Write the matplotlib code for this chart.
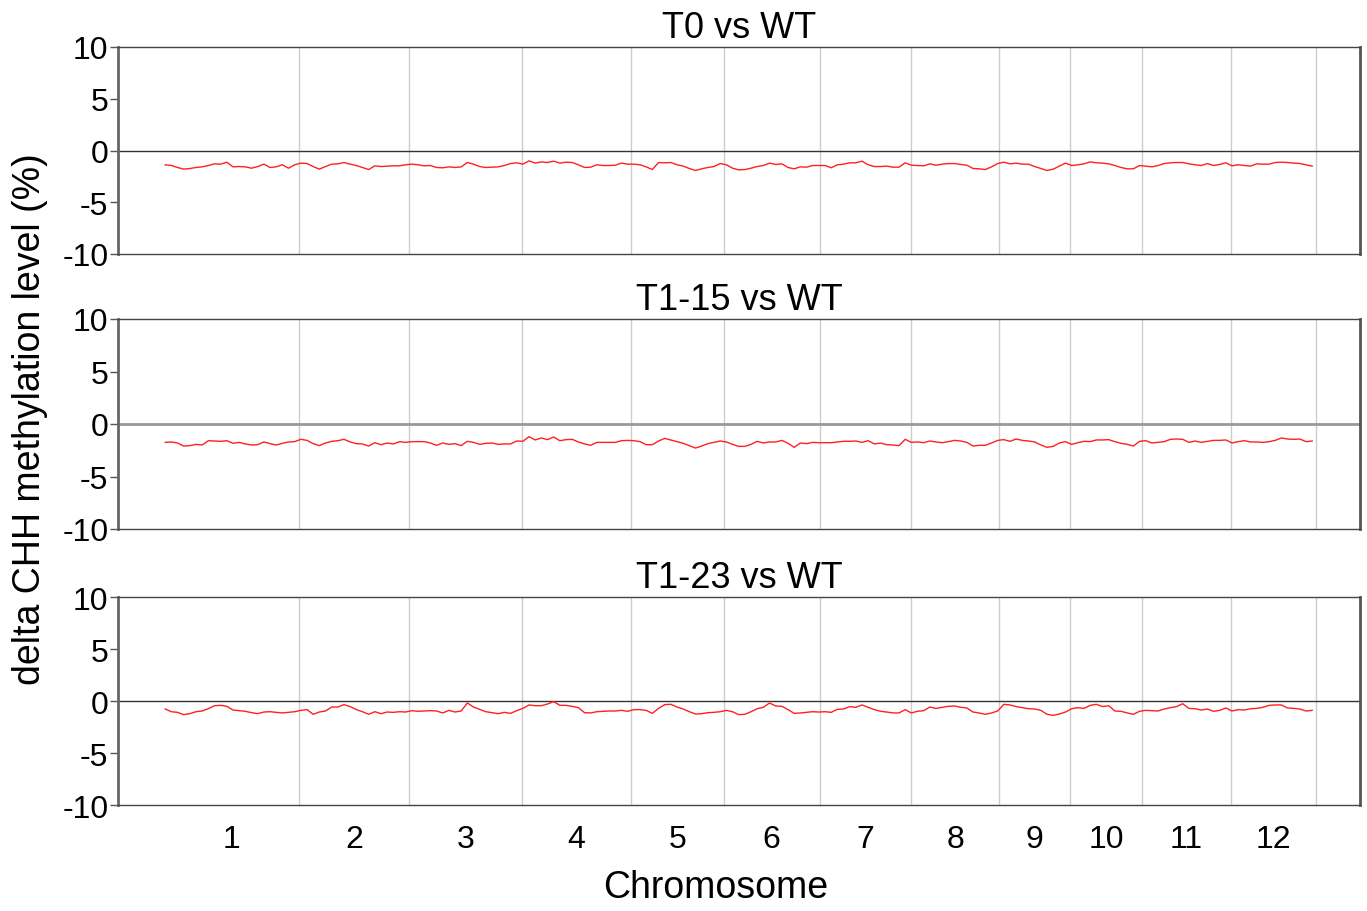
import numpy as np
import matplotlib
matplotlib.use('Agg')
import matplotlib.pyplot as plt

plt.rcParams['font.family'] = ['Liberation Sans', 'DejaVu Sans']

# rice chromosome lengths (Mb)
chrom_names = ['1', '2', '3', '4', '5', '6', '7', '8', '9', '10', '11', '12']
chrom_len = [43.27, 35.94, 36.41, 35.50, 29.96, 31.25, 29.70, 28.44, 23.01, 23.21, 29.02, 27.53]

bin_mb = 2.0  # bin size of the methylation windows

titles = ['T0 vs WT', 'T1-15 vs WT', 'T1-23 vs WT']

t0_vs_wt = [
    -1.38, -1.45, -1.64, -1.80, -1.74, -1.64, -1.58, -1.45, -1.29, -1.32,
    -1.13, -1.58, -1.55, -1.58, -1.71, -1.55, -1.32, -1.64, -1.58, -1.38,
    -1.71, -1.38, -1.22, -1.26, -1.55, -1.80, -1.55, -1.32, -1.29, -1.16,
    -1.32, -1.45, -1.64, -1.84, -1.48, -1.55, -1.51, -1.48, -1.48, -1.38,
    -1.32, -1.38, -1.48, -1.45, -1.64, -1.67, -1.58, -1.64, -1.58, -1.16,
    -1.32, -1.55, -1.64, -1.61, -1.58, -1.45, -1.26, -1.19, -1.32, -1.00,
    -1.22, -1.10, -1.16, -1.03, -1.22, -1.13, -1.16, -1.38, -1.64, -1.61,
    -1.38, -1.45, -1.45, -1.42, -1.22, -1.32, -1.32, -1.38, -1.58, -1.84,
    -1.16, -1.19, -1.16, -1.38, -1.51, -1.74, -1.93, -1.77, -1.64, -1.55,
    -1.26, -1.38, -1.71, -1.87, -1.84, -1.71, -1.55, -1.45, -1.22, -1.35,
    -1.29, -1.64, -1.77, -1.58, -1.61, -1.45, -1.45, -1.45, -1.67, -1.38,
    -1.32, -1.19, -1.19, -1.03, -1.38, -1.55, -1.55, -1.51, -1.61, -1.61,
    -1.19, -1.42, -1.45, -1.48, -1.29, -1.42, -1.32, -1.26, -1.26, -1.35,
    -1.42, -1.74, -1.77, -1.84, -1.58, -1.26, -1.13, -1.29, -1.22, -1.32,
    -1.32, -1.55, -1.74, -1.93, -1.80, -1.51, -1.22, -1.45, -1.38, -1.29,
    -1.10, -1.19, -1.22, -1.29, -1.45, -1.64, -1.77, -1.77, -1.45, -1.51,
    -1.58, -1.45, -1.26, -1.19, -1.16, -1.16, -1.29, -1.38, -1.45, -1.26,
    -1.45, -1.35, -1.19, -1.48, -1.38, -1.45, -1.51, -1.29, -1.32, -1.32,
    -1.16, -1.13, -1.16, -1.22, -1.26, -1.38, -1.51,
]

t1_15_vs_wt = [
    -1.75, -1.71, -1.81, -2.10, -2.06, -1.94, -2.00, -1.59, -1.62, -1.65,
    -1.59, -1.84, -1.75, -1.90, -2.00, -1.97, -1.71, -1.87, -2.00, -1.84,
    -1.71, -1.68, -1.46, -1.56, -1.87, -2.06, -1.81, -1.65, -1.59, -1.46,
    -1.71, -1.87, -1.90, -2.10, -1.78, -1.97, -1.81, -1.90, -1.68, -1.75,
    -1.68, -1.68, -1.68, -1.81, -2.03, -1.81, -1.94, -1.87, -2.06, -1.65,
    -1.75, -1.94, -1.84, -1.81, -1.94, -1.90, -1.90, -1.62, -1.65, -1.21,
    -1.52, -1.33, -1.49, -1.24, -1.59, -1.49, -1.46, -1.71, -1.90, -2.03,
    -1.75, -1.75, -1.75, -1.75, -1.59, -1.56, -1.59, -1.68, -1.97, -1.97,
    -1.62, -1.37, -1.52, -1.68, -1.84, -2.06, -2.29, -2.10, -1.87, -1.75,
    -1.62, -1.71, -1.94, -2.13, -2.13, -1.94, -1.65, -1.81, -1.71, -1.71,
    -1.56, -1.84, -2.22, -1.81, -1.87, -1.75, -1.78, -1.78, -1.78, -1.71,
    -1.65, -1.65, -1.62, -1.75, -1.59, -1.90, -1.81, -1.97, -2.00, -2.06,
    -1.46, -1.75, -1.71, -1.78, -1.62, -1.71, -1.78, -1.68, -1.56, -1.62,
    -1.75, -2.10, -2.03, -2.03, -1.81, -1.56, -1.49, -1.65, -1.43, -1.56,
    -1.62, -1.71, -2.00, -2.22, -2.13, -1.81, -1.68, -1.94, -1.78, -1.65,
    -1.68, -1.52, -1.52, -1.49, -1.68, -1.84, -1.94, -2.10, -1.65, -1.59,
    -1.81, -1.75, -1.68, -1.46, -1.43, -1.46, -1.75, -1.62, -1.75, -1.65,
    -1.56, -1.56, -1.52, -1.81, -1.68, -1.59, -1.71, -1.71, -1.75, -1.68,
    -1.56, -1.33, -1.43, -1.46, -1.43, -1.68, -1.62,
]

t1_23_vs_wt = [
    -0.77, -1.03, -1.09, -1.31, -1.22, -1.03, -0.96, -0.74, -0.45, -0.42,
    -0.51, -0.87, -0.93, -0.99, -1.12, -1.22, -1.06, -1.03, -1.09, -1.15,
    -1.09, -1.03, -0.90, -0.83, -1.28, -1.06, -0.96, -0.58, -0.58, -0.35,
    -0.54, -0.83, -1.03, -1.28, -1.03, -1.22, -1.06, -1.09, -1.03, -1.06,
    -0.93, -0.99, -0.96, -0.93, -0.96, -1.15, -0.90, -1.06, -0.96, -0.19,
    -0.58, -0.80, -1.03, -1.12, -1.22, -1.09, -1.19, -0.93, -0.71, -0.38,
    -0.45, -0.45, -0.29, -0.06, -0.42, -0.42, -0.51, -0.64, -1.12, -1.15,
    -1.03, -0.99, -0.96, -0.96, -0.90, -0.99, -0.83, -0.83, -0.90, -1.19,
    -0.71, -0.35, -0.32, -0.58, -0.77, -1.03, -1.25, -1.22, -1.12, -1.09,
    -1.03, -0.90, -1.03, -1.31, -1.28, -1.03, -0.74, -0.61, -0.19, -0.48,
    -0.51, -0.83, -1.19, -1.15, -1.09, -1.03, -1.06, -1.03, -1.09, -0.80,
    -0.77, -0.54, -0.61, -0.38, -0.61, -0.83, -0.99, -1.06, -1.15, -1.15,
    -0.83, -1.15, -0.99, -0.93, -0.58, -0.71, -0.61, -0.51, -0.48, -0.61,
    -0.67, -1.06, -1.15, -1.28, -1.15, -0.96, -0.32, -0.38, -0.54, -0.64,
    -0.74, -0.77, -0.90, -1.28, -1.38, -1.25, -1.06, -0.74, -0.64, -0.71,
    -0.42, -0.32, -0.54, -0.45, -0.96, -0.99, -1.15, -1.28, -0.99, -0.90,
    -0.93, -0.96, -0.77, -0.64, -0.54, -0.26, -0.71, -0.74, -0.87, -0.77,
    -0.99, -0.90, -0.67, -0.96, -0.83, -0.87, -0.74, -0.71, -0.61, -0.42,
    -0.38, -0.38, -0.67, -0.71, -0.77, -0.96, -0.90,
]

series = [t0_vs_wt, t1_15_vs_wt, t1_23_vs_wt]

ends = np.cumsum(chrom_len)
starts = ends - np.array(chrom_len)
centers = (starts + ends) / 2.0

fig = plt.figure(figsize=(13.67, 9.12), dpi=100)
left, right = 118 / 1367, 1360 / 1367
boxes = [(48, 255), (320, 530), (598, 806)]

for i, (top_px, bot_px) in enumerate(boxes):
    b = 1 - bot_px / 912
    h = (bot_px - top_px) / 912
    ax = fig.add_axes([left, b, right - left, h])
    vals = np.array(series[i])
    x = np.arange(len(vals)) * bin_mb
    for e in ends:
        ax.axvline(e, color='#cccccc', lw=1, zorder=0)
    if i == 1:
        ax.axhline(0, color='#999999', lw=2, zorder=1)
    else:
        ax.axhline(0, color='#333333', lw=1, zorder=1)
    ax.plot(x, vals, color='#ff2020', lw=1, zorder=2)

    ax.set_xlim(-15.3, 387.5)
    ax.set_ylim(-10, 10)
    ax.set_yticks([-10, -5, 0, 5, 10])
    ax.set_yticklabels(['-10', '-5', '0', '5', '10'])
    ax.tick_params(axis='y', labelsize=23, length=6, width=1, color='#555555', pad=1)
    ax.set_title(titles[i], fontsize=26, pad=7)
    for s in ax.spines.values():
        s.set_color('#444444')
        s.set_linewidth(1)
    ax.spines['left'].set_color('#666666')
    ax.spines['left'].set_linewidth(2)
    ax.spines['right'].set_color('#555555')
    ax.spines['right'].set_linewidth(2)

    if i == 2:
        ax.set_xticks(centers)
        ax.set_xticklabels(chrom_names)
        ax.tick_params(axis='x', labelsize=23, length=0, pad=14)
    else:
        ax.set_xticks([])

fig.text(30 / 1367, 1 - 419 / 912, 'delta CHH methylation level (%)', rotation=90,
         fontsize=27, ha='center', va='center')
fig.text(716 / 1367, 1 - 888 / 912, 'Chromosome', fontsize=27, ha='center', va='center')

fig.savefig('out.png', dpi=100)
